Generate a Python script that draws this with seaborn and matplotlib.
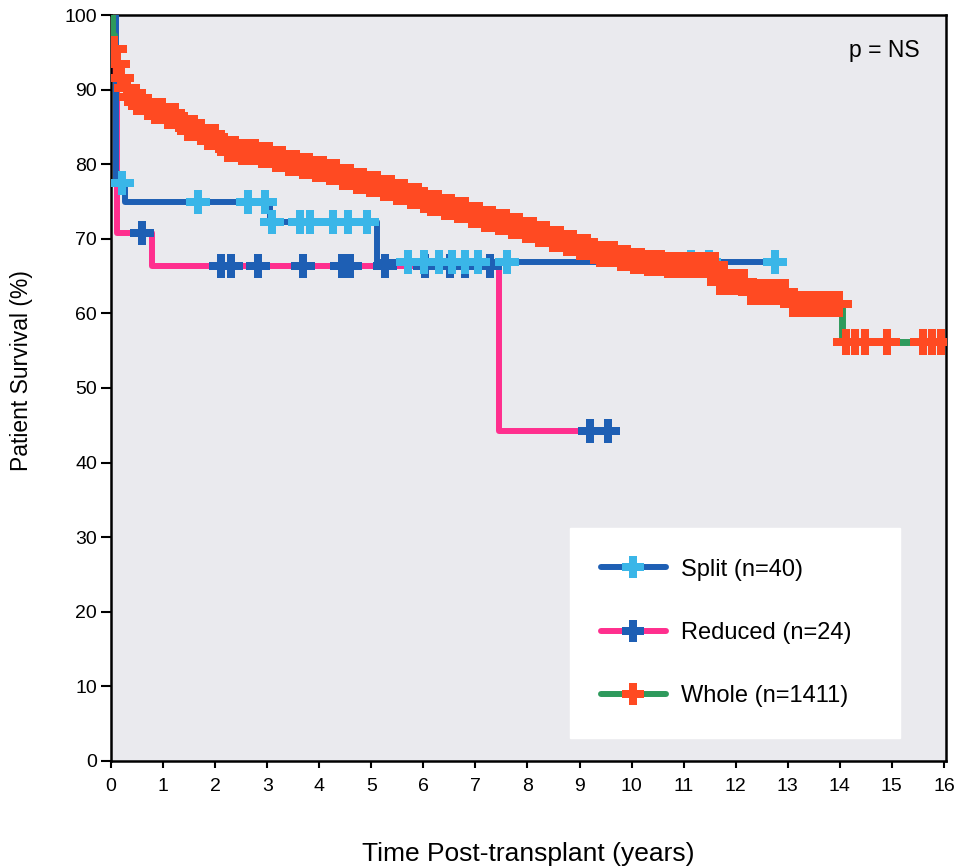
import numpy as np
import pandas as pd
import matplotlib
matplotlib.use("Agg")
import matplotlib.pyplot as plt
from matplotlib.lines import Line2D
import seaborn as sns

# Kaplan-Meier estimates: step knots (years, survival %), end of follow-up, censored times
whole_t = [0, 0.02, 0.05, 0.09, 0.14, 0.22, 0.35, 0.5, 0.68, 0.85, 1.05, 1.25, 1.45,
           1.65, 1.85, 2.05, 2.25, 2.5, 2.8, 3.1, 3.35, 3.6, 3.85, 4.1, 4.4, 4.65, 4.9,
           5.15, 5.4, 5.65, 5.94, 6.15, 6.4, 6.65, 6.9, 7.15, 7.4, 7.65, 7.9, 8.15, 8.4,
           8.65, 8.9, 9.15, 9.4, 9.7, 10.0, 10.3, 10.7, 11.7, 12.2, 13.1, 14.05]
whole_s = [100, 97.3, 95.5, 93.5, 91.5, 90.2, 89.0, 88.3, 87.7, 87.1, 86.4, 85.6, 84.9,
           84.3, 83.6, 82.8, 82.1, 81.6, 81.2, 80.7, 80.2, 79.7, 79.3, 78.9, 78.3, 77.8,
           77.3, 76.8, 76.3, 75.8, 75.2, 74.8, 74.3, 73.8, 73.2, 72.7, 72.2, 71.7, 71.2,
           70.6, 70.0, 69.4, 68.9, 68.3, 67.9, 67.4, 67.0, 66.8, 66.5, 64.2, 62.9, 61.3,
           56.1]
whole_end = 16.0
whole_cens = [0.06, 0.12, 0.2, 0.3, 0.4, 0.5, 0.6, 0.72, 0.85, 0.97, 1.1, 1.22, 1.35,
              1.48, 1.6, 1.73, 1.86, 1.99, 2.12, 2.25, 2.38, 2.51, 2.64, 2.77, 2.9, 3.03,
              3.16, 3.29, 3.42, 3.55, 3.68, 3.81, 3.94, 4.07, 4.2, 4.33, 4.46, 4.59, 4.72,
              4.85, 4.98, 5.11, 5.24, 5.37, 5.5, 5.63, 5.76, 5.89, 6.02, 6.15, 6.28, 6.41,
              6.54, 6.67, 6.8, 6.93, 7.06, 7.19, 7.32, 7.45, 7.58, 7.71, 7.84, 7.97, 8.1,
              8.23, 8.36, 8.49, 8.62, 8.75, 8.88, 9.01, 9.14, 9.27, 9.4, 9.53, 9.66, 9.79,
              9.92, 10.05, 10.18, 10.31, 10.44, 10.57, 10.7, 10.83, 10.96, 11.09, 11.22,
              11.35, 11.48, 11.6, 11.7, 11.8, 11.9, 12.03, 12.16, 12.3, 12.43, 12.56,
              12.69, 12.82, 12.95, 13.1, 13.23, 13.36, 13.49, 13.62, 13.75, 13.88, 13.98,
              14.12, 14.3, 14.48, 14.9, 15.6, 15.78, 15.95]

split_t = [0, 0.10, 0.27, 3.05, 5.11]
split_s = [100, 77.5, 74.9, 72.2, 66.9]
split_end = 12.78
split_cens = [0.21, 1.67, 2.63, 2.96, 3.09, 3.63, 3.82, 4.26, 4.55, 4.92, 5.70, 6.02,
              6.30, 6.55, 6.80, 7.05, 7.60, 11.15, 11.48, 12.75]

reduced_t = [0, 0.03, 0.12, 0.79, 7.45]
reduced_s = [100, 91.7, 70.8, 66.3, 44.2]
reduced_end = 9.6
reduced_cens = [0.6, 2.12, 2.3, 2.82, 3.69, 4.44, 4.59, 5.26, 6.03, 6.51, 6.8, 7.28,
                9.2, 9.55]

labels = ["Split (n=40)", "Reduced (n=24)", "Whole (n=1411)"]
x_ticks = list(range(0, 17))
y_ticks = list(range(0, 101, 10))


def step_frame(t, s, end):
    return pd.DataFrame({"time": list(t) + [end], "surv": list(s) + [s[-1]]})


def censor_frame(t, s, cens):
    idx = np.searchsorted(np.asarray(t), np.asarray(cens), side="right") - 1
    return pd.DataFrame({"time": cens, "surv": np.asarray(s)[idx]})


sns.set_style("white")
plt.rcParams["font.family"] = ["Liberation Sans", "DejaVu Sans"]
plt.rcParams.update({"text.color": "black", "axes.labelcolor": "black",
                     "xtick.color": "black", "ytick.color": "black"})

fig = plt.figure(figsize=(9.57, 8.68), dpi=100)
ax = fig.add_axes([0.116, 0.1233, 0.8725, 0.8594])
ax.set_facecolor("#eaeaee")

c_split_line, c_split_mark = "#1e5fb4", "#3ab6e8"
c_red_line, c_red_mark = "#ff2f8e", "#1e5fb4"
c_whole_line, c_whole_mark = "#2e9a5c", "#ff4a22"

sns.lineplot(data=step_frame(reduced_t, reduced_s, reduced_end), x="time", y="surv",
             drawstyle="steps-post", estimator=None, sort=False, color=c_red_line,
             linewidth=4.3, ax=ax, zorder=2)
sns.lineplot(data=step_frame(split_t, split_s, split_end), x="time", y="surv",
             drawstyle="steps-post", estimator=None, sort=False, color=c_split_line,
             linewidth=4.3, ax=ax, zorder=3)
sns.scatterplot(data=censor_frame(reduced_t, reduced_s, reduced_cens), x="time", y="surv",
                marker="P", s=300, color=c_red_mark, linewidth=0, ax=ax, zorder=4)
sns.scatterplot(data=censor_frame(split_t, split_s, split_cens), x="time", y="surv",
                marker="P", s=300, color=c_split_mark, linewidth=0, ax=ax, zorder=5)
sns.lineplot(data=step_frame(whole_t, whole_s, whole_end), x="time", y="surv",
             drawstyle="steps-post", estimator=None, sort=False, color=c_whole_line,
             linewidth=5, ax=ax, zorder=6)
sns.scatterplot(data=censor_frame(whole_t, whole_s, whole_cens), x="time", y="surv",
                marker="P", s=370, color=c_whole_mark, linewidth=0, ax=ax, zorder=7)

ax.set_xlim(0, 16.04)
ax.set_ylim(0, 100)
ax.set_xticks(x_ticks)
ax.set_yticks(y_ticks)
ax.tick_params(axis="both", which="both", direction="out", color="black",
               labelsize=14, bottom=True, left=True)
ax.tick_params(axis="x", length=5, width=1.5, pad=7)
ax.tick_params(axis="y", length=7, width=1.5, pad=3)
for sp in ax.spines.values():
    sp.set_visible(True)
    sp.set_color("black")
    sp.set_linewidth(1.8)

ax.set_xlabel("Time Post-transplant (years)", fontsize=19, labelpad=34)
ax.set_ylabel("Patient Survival (%)", fontsize=16.5)
ax.yaxis.set_label_coords(-0.094, 0.524)

ax.text(0.969, 0.952, "p = NS", transform=ax.transAxes, ha="right", va="center",
        fontsize=16.5)

handles = [
    Line2D([], [], color=c_split_line, linewidth=4.3, marker="P", markersize=16,
           markerfacecolor=c_split_mark, markeredgewidth=0),
    Line2D([], [], color=c_red_line, linewidth=4.3, marker="P", markersize=16,
           markerfacecolor=c_red_mark, markeredgewidth=0),
    Line2D([], [], color=c_whole_line, linewidth=4.3, marker="P", markersize=16,
           markerfacecolor=c_whole_mark, markeredgewidth=0),
]
leg = ax.legend(handles, labels, loc="lower left", mode="expand",
                bbox_to_anchor=(0.5497, 0.0308, 0.395, 0.288),
                frameon=True, fancybox=False, facecolor="white", edgecolor="white",
                framealpha=1, fontsize=17, handlelength=2.75, handletextpad=0.65,
                labelspacing=1.75, borderpad=1.3, borderaxespad=0)
leg.set_zorder(10)

fig.savefig("out.png", dpi=100, facecolor="white")
